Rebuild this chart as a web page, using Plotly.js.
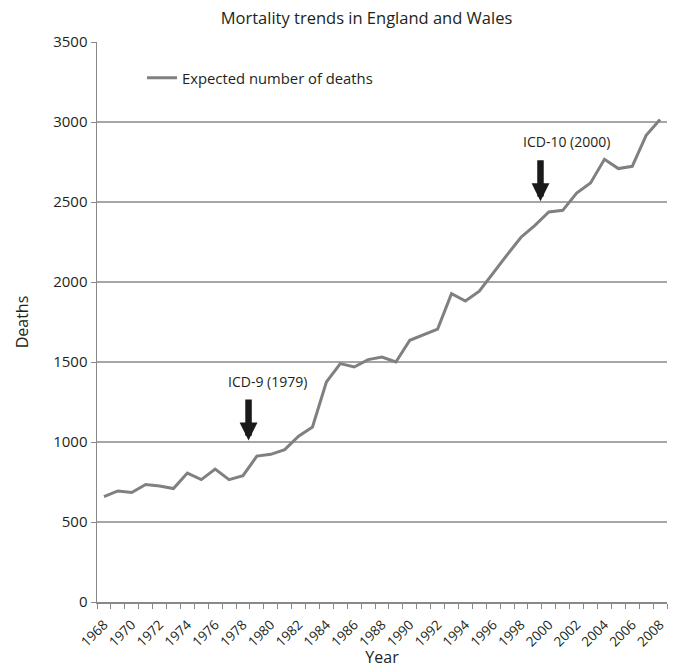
<!DOCTYPE html>
<html>
<head>
<meta charset="utf-8">
<script src="https://cdn.plot.ly/plotly-3.0.1.min.js"></script>
<style>html,body{margin:0;padding:0;background:#fff;}#chart{width:675px;height:668px;}</style>
</head>
<body>
<div id="chart"></div>
<script>
var years = [1968,1969,1970,1971,1972,1973,1974,1975,1976,1977,1978,1979,1980,1981,1982,1983,1984,1985,1986,1987,1988,1989,1990,1991,1992,1993,1994,1995,1996,1997,1998,1999,2000,2001,2002,2003,2004,2005,2006,2007,2008];
var expectedDeaths = [659,694,684,734,725,709,806,765,831,765,790,912,923,952,1036,1094,1375,1490,1469,1515,1531,1500,1636,1673,1706,1927,1881,1942,2058,2170,2280,2354,2438,2448,2556,2619,2767,2709,2723,2917,3015];
var tickYears = [1968,1970,1972,1974,1976,1978,1980,1982,1984,1986,1988,1990,1992,1994,1996,1998,2000,2002,2004,2006,2008];
var tickLabels = tickYears.map(String);
var boundaries = [];
for (var i = 0; i <= years.length; i++) boundaries.push(years[0] - 0.5 + i);

var font = 'Open Sans, Noto Sans, sans-serif';
var txt = '#231f20';

var trace = {
  x: years, y: expectedDeaths, type: 'scatter', mode: 'lines',
  name: 'Expected number of deaths',
  line: {color: '#808080', width: 3}
};

var layout = {
  width: 675, height: 668,
  margin: {l: 97, r: 8, t: 42, b: 66},
  paper_bgcolor: '#fff', plot_bgcolor: '#fff',
  font: {family: font, color: txt, size: 13},
  title: {text: 'Mortality trends in England and Wales', font: {size: 16.5, color: txt, family: font}, x: 0.543, xanchor: 'center', y: 0.973, yanchor: 'middle'},
  showlegend: true,
  legend: {x: 0.079, y: 0.965, xanchor: 'left', yanchor: 'top', bgcolor: 'rgba(0,0,0,0)', font: {size: 14.8, color: txt}},
  xaxis: {
    range: [1967.5, 2008.5], tickmode: 'array', tickvals: tickYears, ticktext: tickLabels,
    tickangle: -45, ticks: '', tickfont: {size: 13.5, color: txt}, ticklabelstandoff: 8,
    showgrid: false, zeroline: false, showline: true, linecolor: '#888', linewidth: 1.5,
    minor: {tickmode: 'array', tickvals: boundaries, ticks: 'outside', ticklen: 5, tickcolor: '#888', tickwidth: 1, showgrid: false},
    title: {text: 'Year', font: {size: 16, color: txt}, standoff: 2}
  },
  yaxis: {
    range: [0, 3500], tickmode: 'linear', tick0: 0, dtick: 500,
    ticks: 'outside', ticklen: 5, tickcolor: '#888', tickfont: {size: 15, color: txt},
    showgrid: true, gridcolor: '#a6a6a6', gridwidth: 1.3, zeroline: false,
    showline: true, linecolor: '#888', linewidth: 1.5,
    title: {text: 'Deaths', font: {size: 16, color: txt}, standoff: 20}
  },
  annotations: [
    {x: 1978.4, y: 1010, ax: 1978.4, ay: 1275, axref: 'x', ayref: 'y', xref: 'x', yref: 'y', text: '', showarrow: true, arrowhead: 2, arrowsize: 0.55, arrowwidth: 6.5, arrowcolor: '#1a1a1a'},
    {x: 1999.4, y: 2505, ax: 1999.4, ay: 2770, axref: 'x', ayref: 'y', xref: 'x', yref: 'y', text: '', showarrow: true, arrowhead: 2, arrowsize: 0.55, arrowwidth: 6.5, arrowcolor: '#1a1a1a'},
    {x: 1979.75, y: 1380, xref: 'x', yref: 'y', text: 'ICD-9 (1979)', showarrow: false, font: {size: 14, color: txt}},
    {x: 2001.3, y: 2880, xref: 'x', yref: 'y', text: 'ICD-10 (2000)', showarrow: false, font: {size: 14, color: txt}}
  ]
};

Plotly.newPlot('chart', [trace], layout, {displayModeBar: false, staticPlot: true});
</script>
</body>
</html>
